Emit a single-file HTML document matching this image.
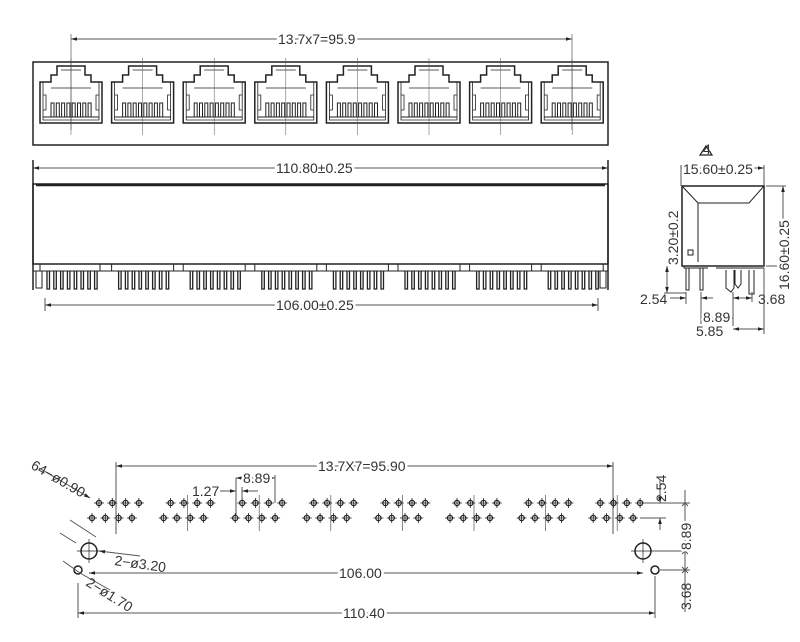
<!DOCTYPE html>
<html><head><meta charset="utf-8"><style>
html,body{margin:0;padding:0;background:#fff;width:800px;height:642px;overflow:hidden}
svg{display:block}
text{font-family:"Liberation Sans",sans-serif;fill:#333;font-size:14px}
</style></head><body>
<svg id="s" width="800" height="642" viewBox="0 0 800 642" xmlns="http://www.w3.org/2000/svg">
<defs>
<marker id="a" viewBox="0 0 10 10" refX="10" refY="5" markerWidth="8" markerHeight="6" orient="auto-start-reverse"><path d="M0,2L10,5L0,8z" fill="#222"/></marker>
</defs>
<g stroke="#222" fill="none" stroke-width="1">
<line x1="71" y1="39" x2="572" y2="39" stroke="#555" marker-start="url(#a)" marker-end="url(#a)"/>
<line x1="71" y1="34" x2="71" y2="130" stroke="#555" stroke-width=".7"/>
<line x1="572" y1="34" x2="572" y2="130" stroke="#555" stroke-width=".7"/>
<rect x="33" y="62" width="575" height="83" stroke-width="1.5"/>
<g id="ports"></g>
<line x1="33" y1="168" x2="608" y2="168" stroke="#555" marker-start="url(#a)" marker-end="url(#a)"/>
<line x1="33" y1="160" x2="33" y2="290" stroke-width="1.5"/>
<line x1="608" y1="160" x2="608" y2="290" stroke-width="1.5"/>
<rect x="33" y="184" width="575" height="80" stroke-width="1.5"/>
<line x1="36" y1="185" x2="605" y2="185" stroke-width="2.5"/>
<rect x="33" y="264" width="575" height="7"/>
<g id="fpins"></g>
<line x1="45" y1="298" x2="45" y2="311" stroke="#555"/>
<line x1="598" y1="298" x2="598" y2="311" stroke="#555"/>
<line x1="45" y1="305" x2="598" y2="305" stroke="#555" marker-start="url(#a)" marker-end="url(#a)"/>
<line x1="681" y1="168" x2="764" y2="168" stroke="#555" marker-start="url(#a)" marker-end="url(#a)"/>
<line x1="681" y1="165" x2="681" y2="186" stroke="#555"/>
<line x1="764" y1="165" x2="764" y2="186" stroke="#555"/>
<rect x="682" y="186" width="82" height="80" stroke-width="1.5"/>
<path d="M682,186 L698,203 L749,203 L764,186 M698,203 L698,262"/>
<rect x="688" y="250" width="5" height="5"/>
<path d="M684,266 L684,268 L708,268 M716,268 L764,268"/>
<path d="M686,268 V290 H689 V268 M700,268 V290 H703 V268"/>
<path d="M726,270 V288 L731,292 L734,288 V270 M735,270 V284 L738,288 L741,284 V270 M749,270 V294 H754 V270"/>
<line x1="783" y1="186" x2="783" y2="266" stroke="#555" marker-start="url(#a)" marker-end="url(#a)"/>
<line x1="766" y1="186" x2="786" y2="186" stroke="#555"/>
<line x1="766" y1="266" x2="786" y2="266" stroke="#555"/>
<line x1="667" y1="266" x2="667" y2="293" stroke="#555" marker-start="url(#a)" marker-end="url(#a)"/>
<line x1="664" y1="293" x2="686" y2="293" stroke="#555"/>
<line x1="686" y1="292" x2="686" y2="304" stroke="#555"/>
<line x1="701" y1="292" x2="701" y2="326" stroke="#555"/>
<line x1="670" y1="298" x2="686" y2="298" stroke="#555" marker-end="url(#a)"/>
<line x1="713" y1="298" x2="701" y2="298" stroke="#555" marker-end="url(#a)"/>
<line x1="733" y1="292" x2="733" y2="326" stroke="#555"/>
<line x1="752" y1="292" x2="752" y2="302" stroke="#555"/>
<line x1="764" y1="268" x2="764" y2="334" stroke="#555"/>
<line x1="701" y1="318" x2="733" y2="318" stroke="#555"/>
<line x1="733" y1="298" x2="752" y2="298" stroke="#555" marker-start="url(#a)" marker-end="url(#a)"/>
<line x1="733" y1="329" x2="764" y2="329" stroke="#555" marker-start="url(#a)" marker-end="url(#a)"/>
<path d="M706,146 L712,155 L700,155 Z" stroke-width="1.2"/>
<line x1="116" y1="466" x2="613" y2="466" stroke="#555" marker-start="url(#a)" marker-end="url(#a)"/>
<line x1="116" y1="462" x2="116" y2="534" stroke="#555"/>
<line x1="613" y1="462" x2="613" y2="534" stroke="#555"/>
<g id="holes"></g>
<circle cx="89" cy="551" r="8" stroke-width="1.5"/>
<circle cx="643" cy="551" r="8" stroke-width="1.5"/>
<circle cx="78" cy="570" r="4" stroke-width="1.5"/>
<circle cx="655" cy="570" r="4" stroke-width="1.5"/>
<path d="M77,551 H101 M89,539 V563 M631,551 H655 M643,539 V563" stroke-width=".7"/>
<line x1="89" y1="573" x2="643" y2="573" stroke="#555" marker-start="url(#a)" marker-end="url(#a)"/>
<line x1="78" y1="583" x2="78" y2="618" stroke="#555"/>
<line x1="655" y1="576" x2="655" y2="618" stroke="#555"/>
<line x1="78" y1="613" x2="655" y2="613" stroke="#555" marker-start="url(#a)" marker-end="url(#a)"/>
<line x1="70" y1="520" x2="96" y2="537" stroke="#555"/>
<path d="M60,533 L76,543 M63,561 L80,573 L110,590" stroke="#555"/>
<line x1="39" y1="468" x2="90" y2="498" stroke="#555" marker-end="url(#a)"/>
<line x1="140" y1="556" x2="99" y2="551" stroke="#555" marker-end="url(#a)"/>
<line x1="236" y1="478" x2="236" y2="515" stroke="#555"/>
<line x1="275" y1="475" x2="275" y2="503" stroke="#555"/>
<line x1="236" y1="478" x2="275" y2="478" stroke="#555" marker-start="url(#a)" marker-end="url(#a)"/>
<line x1="242" y1="487" x2="242" y2="500" stroke="#555"/>
<line x1="220" y1="491" x2="236" y2="491" stroke="#555" marker-end="url(#a)"/>
<line x1="258" y1="491" x2="242" y2="491" stroke="#555" marker-end="url(#a)"/>
<line x1="645" y1="503" x2="690" y2="503" stroke="#555"/>
<line x1="640" y1="518" x2="666" y2="518" stroke="#555"/>
<line x1="660" y1="480" x2="660" y2="503" stroke="#555" marker-end="url(#a)"/>
<line x1="660" y1="530" x2="660" y2="518" stroke="#555" marker-end="url(#a)"/>
<line x1="685" y1="490" x2="685" y2="612" stroke="#555"/>
<line x1="652" y1="551" x2="690" y2="551" stroke="#555"/>
<line x1="660" y1="570" x2="690" y2="570" stroke="#555"/>
<path d="M682,506 L685,503 L688,506 M682,548 L685,551 L688,548 M682,554 L685,551 L688,554 M682,567 L685,570 L688,567 M682,573 L685,570 L688,573" stroke="#555"/>
</g>
<g stroke="#fff" stroke-width="5" style="paint-order:stroke">
<text x="278" y="44">13.7x7=95.9</text>
<text x="276" y="173">110.80±0.25</text>
<text x="276" y="310">106.00±0.25</text>
<text x="683" y="174">15.60±0.25</text>
<text transform="translate(678,265) rotate(-90)">3.20±0.2</text>
<text transform="translate(789,290) rotate(-90)">16.60±0.25</text>
<text x="703" y="322">8.89</text>
<text x="696" y="336">5.85</text>
<text x="318" y="471">13.7X7=95.90</text>
<text x="243" y="483">8.89</text>
<text x="339" y="578">106.00</text>
<text x="343" y="618">110.40</text>
<text transform="translate(691,550) rotate(-90)">8.89</text>
</g>
<text x="703" y="154" font-size="6">4</text>
<text x="640" y="304">2.54</text>
<text x="758" y="304">3.68</text>
<text x="192" y="496">1.27</text>
<text transform="translate(30,468) rotate(30)">64−ø0.90</text>
<text x="114" y="565" transform="rotate(8 114 565)">2−ø3.20</text>
<text transform="translate(85,585) rotate(32)">2−ø1.70</text>
<text transform="translate(666,502) rotate(-90)">2.54</text>
<text transform="translate(691,610) rotate(-90)">3.68</text>
</svg>
<script>
var NS="http://www.w3.org/2000/svg";
function add(g,tag,at){var e=document.createElementNS(NS,tag);for(var k in at)e.setAttribute(k,at[k]);document.getElementById(g).appendChild(e);return e;}
var P=71.6;
for(var i=0;i<8;i++){
 var c=71+i*P;
 add("ports","path",{d:"M"+(c-31)+",123 V82 H"+(c-20)+" V75 H"+(c-14)+" V66 H"+(c+14)+" V75 H"+(c+20)+" V82 H"+(c+31)+" V123 Z","stroke-width":"1.5"});
 add("ports","path",{d:"M"+(c-10)+",70 H"+(c+10)+" M"+(c-20)+",88 H"+(c+20)+" M"+(c-28)+",82 V120 H"+(c+28)+" V82 M"+(c-28)+",95 H"+(c-25)+" V110 H"+(c-28)+" M"+(c+28)+",95 H"+(c+25)+" V110 H"+(c+28),"stroke-width":".8"});
 var d="";for(var j=0;j<8;j++){var x=c-20+j*5.3;d+="M"+x+",117 V103 H"+(x+3)+" V117 ";}
 add("ports","path",{d:d,"stroke-width":"1"});
 add("ports","line",{x1:c-28,y1:117,x2:c+28,y2:117});
 add("ports","line",{x1:c,y1:58,x2:c,y2:135,"stroke-width":".5",stroke:"#555"});
 var fx=40+i*P;
 add("fpins","rect",{x:fx,y:264,width:(i==0?60:62),height:7});
 var pd="";for(var j=0;j<8;j++){var x=c-24+j*6.8;pd+="M"+x+",271 V289 H"+(x+2.5)+" V271 ";}
 add("fpins","path",{d:pd,"stroke-width":"1.3"});
 var h=99+i*P;
 for(var j=0;j<4;j++){
  [[h+j*13.3,503],[h-7+j*13.3,518]].forEach(function(p){
   add("holes","circle",{cx:p[0],cy:p[1],r:2.6,"stroke-width":"1.3"});
   add("holes","path",{d:"M"+(p[0]-5)+","+p[1]+"H"+(p[0]+5)+"M"+p[0]+","+(p[1]-5)+"V"+(p[1]+5),"stroke-width":".8"});
  });
 }
 add("holes","line",{x1:h+17,y1:495,x2:h+17,y2:531,stroke:"#555","stroke-width":".7"});
}
add("fpins","rect",{x:36,y:271,width:6,height:17});
add("fpins","rect",{x:600,y:271,width:6,height:17});
</script>
</body></html>
